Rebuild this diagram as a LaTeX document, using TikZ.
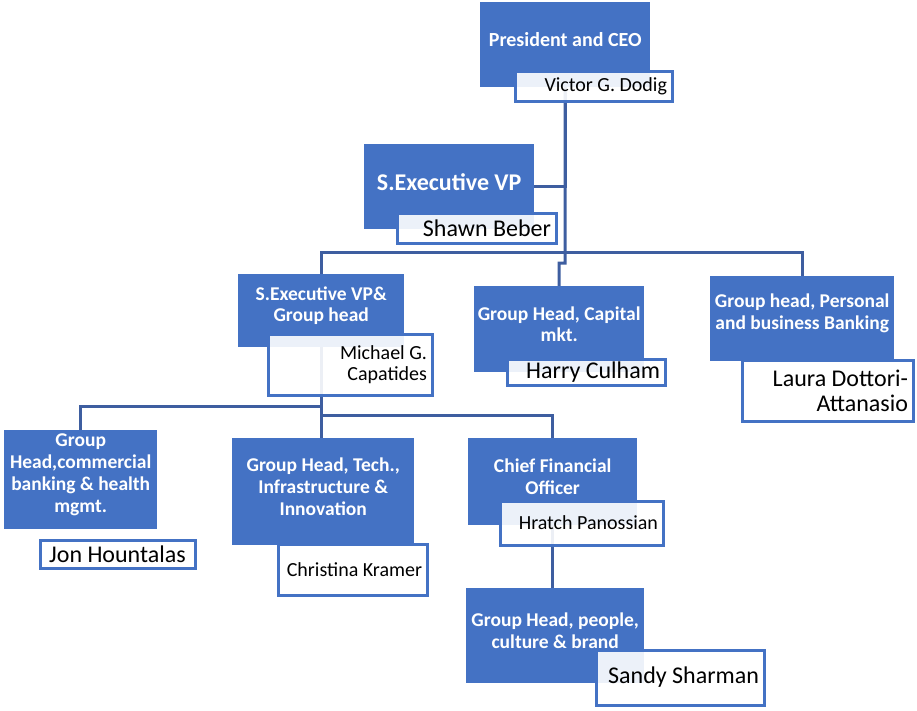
\documentclass[tikz,border=0pt]{standalone}
\usepackage{fontspec}
\setmainfont{Carlito}
\usetikzlibrary{backgrounds}
\definecolor{cblue}{RGB}{68,114,196}
\definecolor{cline}{RGB}{62,94,160}
\tikzset{
  role/.style={fill=cblue, inner sep=0pt, anchor=north west},
  roletext/.style={text=white, font=\bfseries\fontsize{19.5}{21.8}\selectfont, align=flush center, yshift=5pt},
  person/.style={draw=cblue, line width=3pt, fill=white, fill opacity=0.9, text opacity=1, anchor=north west, inner xsep=5pt, inner ysep=0pt, align=flush right, font=\fontsize{24}{25}\selectfont},
  small/.style={font=\fontsize{20}{21}\selectfont},
  link/.style={draw=cline, line width=3pt},
}
\begin{document}
\begin{tikzpicture}[x=1pt, y=-1pt]
\useasboundingbox (0,0) rectangle (917,710);
% top
\node[role, minimum width=170pt, minimum height=85pt, label={[roletext, font=\bfseries\fontsize{20}{23}\selectfont]center:President and CEO}] (ceo) at (480,2) {};
\node[person, small, text width=147pt, minimum height=30pt] (dodig) at (513.5,69.5) {Victor G. Dodig};
\node[role, minimum width=170pt, minimum height=85pt, label={[roletext, font=\bfseries\fontsize{24}{28}\selectfont]center:S.Executive VP}] (sevp) at (364,144) {};
\node[person, text width=149pt, minimum height=30pt] (beber) at (395.5,211.5) {Shawn Beber};
% second row
\node[role, minimum width=166pt, minimum height=73pt, label={[roletext]center:S.Executive VP\&\\Group head}] (sevpgh) at (238,274) {};
\node[person, small, text width=154pt, minimum height=61pt] (capatides) at (266.5,332.5) {Michael G.\\Capatides};
\node[role, minimum width=170pt, minimum height=86pt, label={[roletext]center:Group Head, Capital\\mkt.}] (capmkt) at (474,286) {};
\node[person, text width=148pt, minimum height=26pt] (culham) at (505.5,357.5) {Harry Culham};
\node[role, minimum width=184pt, minimum height=85pt, label={[roletext]center:Group head, Personal\\and business Banking}] (pbb) at (710,276) {};
\node[person, text width=161pt, minimum height=61pt] (dottori) at (740.5,358.5) {Laura Dottori-\\Attanasio};
% third row
\node[role, minimum width=153pt, minimum height=99pt, label={[roletext]center:Group\\Head,commercial\\banking \& health\\mgmt.}] (cbh) at (4,430) {};
\node[person, align=flush center, text width=145pt, minimum height=28pt] (hountalas) at (38.5,538.5) {Jon Hountalas};
\node[role, minimum width=182pt, minimum height=107pt, label={[roletext]center:Group Head, Tech.,\\Infrastructure \&\\Innovation}] (tech) at (232,438) {};
\node[person, small, text width=139pt, minimum height=51pt] (kramer) at (276.5,542.5) {Christina Kramer};
\node[role, minimum width=169pt, minimum height=87pt, label={[roletext]center:Chief Financial\\Officer}] (cfo) at (468,438) {};
\node[person, small, text width=153pt, minimum height=44pt] (panossian) at (498.5,499.5) {Hratch Panossian};
\node[role, minimum width=178pt, minimum height=95pt, label={[roletext]center:Group Head, people,\\culture \& brand}] (pcb) at (466,588) {};
\node[person, text width=158pt, minimum height=55pt] (sharman) at (594.5,648.5) {Sandy Sharman};
% connectors
\coordinate (bus1) at (565,252);
\coordinate (jog) at (565,263);
\coordinate (split) at (321,406);
\coordinate (split2) at (321,415);
\begin{pgfonlayer}{background}
\draw[link] (ceo.south) |- (sevp.east);
\draw[link] (ceo.south) -- (jog) -| (capmkt.north);
\draw[link] (sevpgh.north) |- (bus1) -| (pbb.north);
\draw[link] (sevpgh.south) -- (sevpgh.south |- tech.north);
\draw[link] (split) -| (cbh.north);
\draw[link] (split2) -| (cfo.north);
\draw[link] (cfo.south) -- (cfo.south |- pcb.north);
\end{pgfonlayer}
\end{tikzpicture}
\end{document}
